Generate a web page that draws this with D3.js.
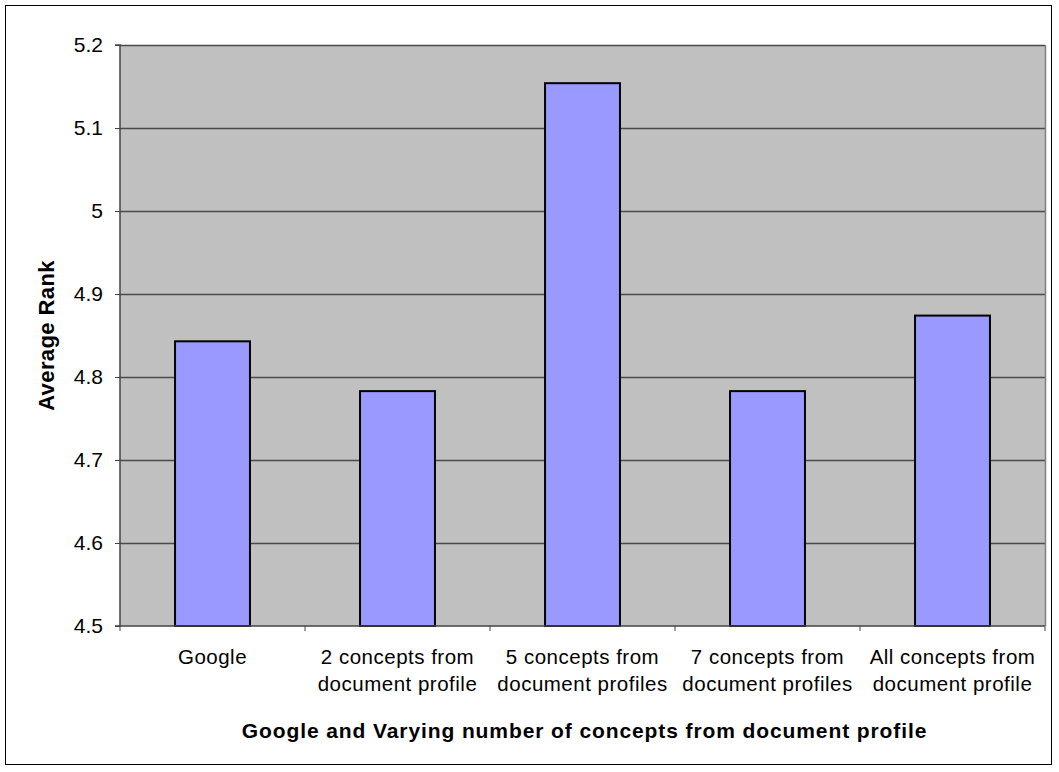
<!DOCTYPE html>
<html><head><meta charset="utf-8">
<script src="https://cdn.jsdelivr.net/npm/d3@7"></script>
<style>body{margin:0;background:#fff;} text{font-family:"Liberation Sans",Arial,sans-serif;}</style>
</head><body>
<svg id="c" width="1059" height="772"></svg>
<script>
const categories = [
  ["Google"],
  ["2 concepts from", "document profile"],
  ["5 concepts from", "document profiles"],
  ["7 concepts from", "document profiles"],
  ["All concepts from", "document profile"]
];
const values = [4.843, 4.783, 5.154, 4.783, 4.874];
const yTicks = [4.5, 4.6, 4.7, 4.8, 4.9, 5, 5.1, 5.2];
const yTitle = "Average Rank";
const xTitle = "Google and Varying number of concepts from document profile";

const svg = d3.select("#c");
svg.append("rect").attr("x",5.5).attr("y",5.5).attr("width",1046).attr("height",759)
  .attr("fill","#fff").attr("stroke","#000").attr("stroke-width",1);

const L=120, R=1045, T=45, B=626;
const x = d3.scaleBand().domain(d3.range(categories.length)).range([L,R]).padding(0);
const y = d3.scaleLinear().domain([4.5,5.2]).range([B,T]);

svg.append("rect").attr("x",L).attr("y",T).attr("width",R-L).attr("height",B-T).attr("fill","#C0C0C0");

// gridlines
svg.append("g").selectAll("line").data(yTicks.filter(d=>d>4.5)).join("line")
  .attr("x1",L).attr("x2",R).attr("y1",d=>Math.round(y(d))+0.5).attr("y2",d=>Math.round(y(d))+0.5)
  .attr("stroke","#4a4a4a").attr("stroke-width",1.3);
// right border of plot
svg.append("line").attr("x1",R+0.5).attr("x2",R+0.5).attr("y1",T).attr("y2",B).attr("stroke","#808080").attr("stroke-width",1.5);

// bars
const bw = x.bandwidth()*0.405;
svg.append("g").selectAll("rect").data(values).join("rect")
  .attr("x",(d,i)=>x(i)+x.bandwidth()/2-bw/2)
  .attr("y",d=>y(d))
  .attr("width",bw)
  .attr("height",d=>B-y(d))
  .attr("fill","#9999FF").attr("stroke","#000").attr("stroke-width",2);

// y axis
const ya = d3.axisLeft(y).tickValues(yTicks).tickFormat(d=>String(d)).tickSize(5).tickPadding(12);
const gy = svg.append("g").attr("transform",`translate(${L},0)`).call(ya);
gy.attr("font-size",null).attr("font-family",null);
gy.select(".domain").attr("stroke","#444").attr("stroke-width",1.5).attr("d",`M-5,${T}H0V${B}H-5`);
gy.selectAll(".tick line").attr("stroke","#444");
gy.selectAll(".tick text").style("font-size","21px").attr("fill","#000");

// x axis
const xb = d3.scaleLinear().domain([0,categories.length]).range([L,R]);
const gx = svg.append("g").attr("transform",`translate(0,${B})`);
gx.append("line").attr("x1",L).attr("x2",R).attr("y1",0).attr("y2",0).attr("stroke","#444").attr("stroke-width",1.5);
gx.selectAll("line.t").data(d3.range(categories.length+1)).join("line").attr("class","t")
  .attr("x1",d=>xb(d)).attr("x2",d=>xb(d)).attr("y1",0).attr("y2",5).attr("stroke","#444");
const lab = gx.selectAll("text.c").data(categories).join("text").attr("class","c")
  .attr("text-anchor","middle").style("font-size","20.5px").style("letter-spacing","0.5px").attr("fill","#000")
  .attr("transform",(d,i)=>`translate(${x(i)+x.bandwidth()/2},0)`);
lab.selectAll("tspan").data(d=>d).join("tspan").attr("x",0).attr("y",(d,j)=>38+j*27).text(d=>d);

svg.append("text").attr("x",(L+R)/2 + 2).attr("y",738).attr("text-anchor","middle")
  .style("font-size","21px").style("letter-spacing","0.9px").attr("font-weight","bold").text(xTitle);
svg.append("text").attr("transform",`translate(54,${(T+B)/2}) rotate(-90)`).attr("text-anchor","middle")
  .style("font-size","22px").style("letter-spacing","0.4px").attr("font-weight","bold").text(yTitle);
</script>
</body></html>
